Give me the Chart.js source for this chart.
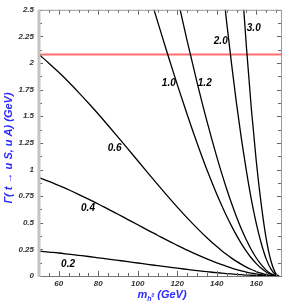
<!DOCTYPE html>
<html><head><meta charset="utf-8">
<script src="https://cdn.jsdelivr.net/npm/chart.js@4.4.1/dist/chart.umd.min.js"></script>
<style>html,body{margin:0;padding:0;background:#fff;overflow:hidden}</style>
</head><body><canvas id="c" width="291" height="305"></canvas>
<script>
// Higgs mass values (GeV)
const masses = [50,55,60,65,70,75,80,85,90,95,100,105,110,115,120,125,130,135,140,142.5,145,147.5,150,152.5,155,157.5,160,162.5,165,167.5,170,171.5];
// Widths Γ (GeV) per coupling curve
const w02 = [0.234,0.225,0.216,0.205,0.194,0.183,0.171,0.159,0.147,0.135,0.122,0.109,0.097,0.085,0.073,0.062,0.051,0.041,0.031,0.027,0.023,0.019,0.015,0.012,0.009,0.007,0.005,0.003,0.002,0.001,0.000,0];
const w04 = [0.924,0.889,0.850,0.810,0.767,0.722,0.676,0.628,0.580,0.530,0.481,0.431,0.383,0.334,0.288,0.243,0.200,0.160,0.123,0.106,0.090,0.075,0.061,0.048,0.037,0.027,0.019,0.012,0.006,0.002,0.000,0];
const w06 = [2.080,1.999,1.913,1.822,1.725,1.625,1.521,1.413,1.304,1.194,1.082,0.971,0.861,0.752,0.647,0.546,0.450,0.359,0.276,0.238,0.202,0.168,0.137,0.109,0.083,0.061,0.042,0.026,0.014,0.005,0.001,0];
const w10 = [null,null,null,null,null,null,null,null,null,null,3.006,2.697,2.391,2.090,1.797,1.516,1.249,0.998,0.768,0.662,0.561,0.468,0.381,0.302,0.232,0.169,0.116,0.072,0.038,0.015,0.002,0];
const w12 = [null,null,null,null,null,null,null,null,null,null,null,null,null,3.044,2.618,2.208,1.819,1.454,1.119,0.964,0.817,0.681,0.555,0.440,0.338,0.246,0.169,0.106,0.055,0.021,0.003,0];
const w20 = [null,null,null,null,null,null,null,null,null,null,null,null,null,null,null,null,null,null,3.261,2.810,2.382,1.987,1.617,1.283,0.984,0.718,0.492,0.308,0.161,0.062,0.009,0];
const w30 = [null,null,null,null,null,null,null,null,null,null,null,null,null,null,null,null,null,null,null,null,null,4.340,3.533,2.803,2.150,1.568,1.075,0.672,0.352,0.136,0.019,0];
const curveNames = ['0.2','0.4','0.6','1.0','1.2','2.0','3.0'];
const labelMass = [64.7,74.8,88.3,115.7,133.9,142,158.7];
const labelWidth = [0.113,0.64,1.20,1.81,1.81,2.20,2.325];
const redLevel = 2.08;
const xTicks = [60,80,100,120,140,160];
const yTicks = [0,0.25,0.5,0.75,1,1.25,1.5,1.75,2,2.25,2.5];
const yTickLabels = ['0','0.25','0.5','0.75','1','1.25','1.5','1.75','2','2.25','2.5'];
const yTitle = 'Γ( t → u S, u A) (GeV)';

const series = [w02,w04,w06,w10,w12,w20,w30];
const FONT = '"Liberation Sans", Arial, sans-serif';
const BLUE = '#2b2bff';

const datasets = series.map((s, k) => ({
  label: curveNames[k],
  data: masses.map((m, i) => ({x: m, y: s[i]})),
  borderColor: '#000', borderWidth: 1.3, pointRadius: 0,
  cubicInterpolationMode: 'monotone', spanGaps: true, fill: false
}));
datasets.push({
  label: 'limit',
  data: [{x: 50, y: redLevel}, {x: 172.5, y: redLevel}],
  borderColor: 'rgb(255,110,110)', borderWidth: 2, pointRadius: 0, fill: false
});

const framePlugin = {
  id: 'frame',
  afterDatasetsDraw(chart) {
    const ctx = chart.ctx, a = chart.chartArea;
    const xs = chart.scales.x, ys = chart.scales.y;
    ctx.save();
    // curve labels
    ctx.font = 'italic bold 10px ' + FONT;
    ctx.fillStyle = '#000'; ctx.textAlign = 'center'; ctx.textBaseline = 'middle';
    curveNames.forEach((t, i) => ctx.fillText(t, xs.getPixelForValue(labelMass[i]), ys.getPixelForValue(labelWidth[i])));
    // ticks
    ctx.strokeStyle = '#666'; ctx.lineWidth = 1;
    ctx.beginPath();
    for (let v = 50; v <= 172.5; v += 5) {
      const px = Math.round(xs.getPixelForValue(v)) + 0.5;
      const len = (v % 20 === 0) ? 5 : 3;
      ctx.moveTo(px, a.bottom); ctx.lineTo(px, a.bottom - len);
      ctx.moveTo(px, a.top); ctx.lineTo(px, a.top + len);
    }
    for (let v = 0; v <= 2.5001; v += 0.125) {
      const py = Math.round(ys.getPixelForValue(v)) + 0.5;
      const len = (Math.abs(v / 0.25 - Math.round(v / 0.25)) < 1e-6) ? 4 : 3;
      ctx.moveTo(a.left, py); ctx.lineTo(a.left + len, py);
      ctx.moveTo(a.right, py); ctx.lineTo(a.right - len, py);
    }
    ctx.stroke();
    // borders
    ctx.strokeStyle = '#9a9a9a';
    ctx.beginPath();
    ctx.moveTo(a.left, a.top + 0.5); ctx.lineTo(a.right, a.top + 0.5);
    ctx.moveTo(a.right + 0.5, a.top); ctx.lineTo(a.right + 0.5, a.bottom);
    ctx.stroke();
    ctx.strokeStyle = '#777';
    ctx.beginPath();
    ctx.moveTo(a.left, a.bottom + 0.5); ctx.lineTo(a.right + 1, a.bottom + 0.5);
    ctx.stroke();
    ctx.fillStyle = '#c4c4c4';
    ctx.fillRect(a.left - 1.5, a.top, 3, a.bottom - a.top + 1);
    // y title
    const f1 = 'italic bold 11px ' + FONT, f2 = 'italic bold 7px ' + FONT, f3 = 'italic bold 5px ' + FONT;
    ctx.fillStyle = BLUE;
    ctx.save();
    ctx.translate(9, 148);
    ctx.rotate(-Math.PI / 2);
    ctx.font = f1; ctx.textAlign = 'center'; ctx.textBaseline = 'middle';
    ctx.fillText(yTitle, 0, 0);
    ctx.restore();
    // x title with subscript
    const cx = (a.left + a.right) / 2 + 2, by = 298;
    ctx.textAlign = 'left'; ctx.textBaseline = 'alphabetic';
    ctx.font = f1; const wm = ctx.measureText('m').width; const wr = ctx.measureText(' (GeV)').width;
    ctx.font = f2; const wh = ctx.measureText('h').width;
    ctx.font = f3; const w0 = ctx.measureText('0').width;
    let x0 = cx - (wm + wh + w0 + wr) / 2;
    ctx.font = f1; ctx.fillText('m', x0, by); x0 += wm;
    ctx.font = f2; ctx.fillText('h', x0, by + 3); x0 += wh;
    ctx.font = f3; ctx.fillText('0', x0, by - 1); x0 += w0;
    ctx.font = f1; ctx.fillText(' (GeV)', x0, by);
    ctx.restore();
  }
};

const tickFont = {family: FONT, size: 8, style: 'italic', weight: 'bold'};
new Chart(document.getElementById('c'), {
  type: 'line',
  data: {datasets},
  options: {
    responsive: false, animation: false, devicePixelRatio: 1,
    layout: {padding: {top: 7, right: 10, left: 0, bottom: 0}},
    plugins: {legend: {display: false}, tooltip: {enabled: false}},
    scales: {
      x: {
        type: 'linear', min: 50, max: 172.5,
        afterBuildTicks: s => { s.ticks = xTicks.map(v => ({value: v})); },
        afterFit: s => { s.height = 29; },
        ticks: {font: tickFont, color: '#333', padding: 3, maxRotation: 0, autoSkip: false},
        grid: {display: false, drawTicks: false}, border: {display: false},
        title: {display: false}
      },
      y: {
        type: 'linear', min: 0, max: 2.5,
        afterBuildTicks: s => { s.ticks = yTicks.map(v => ({value: v})); },
        afterFit: s => { s.width = 39; },
        ticks: {font: tickFont, color: '#333', padding: 5, autoSkip: false,
          callback: (v, i) => yTickLabels[i]},
        grid: {display: false, drawTicks: false}, border: {display: false},
        title: {display: false}
      }
    }
  },
  plugins: [framePlugin]
});
</script></body></html>
